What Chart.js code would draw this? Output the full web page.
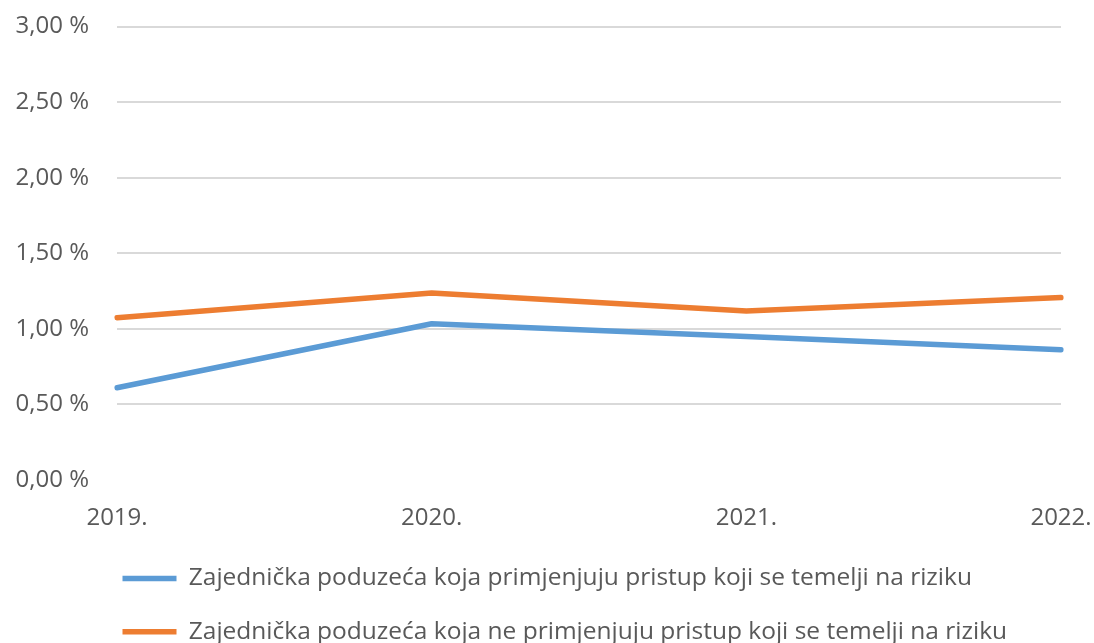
<!DOCTYPE html>
<html>
<head>
<meta charset="utf-8">
<script src="https://cdn.jsdelivr.net/npm/chart.js@4.4.1/dist/chart.umd.min.js"></script>
<style>
  html, body { margin: 0; padding: 0; background: #ffffff; overflow: hidden; }
  #wrap { width: 1094px; height: 654px; }
</style>
</head>
<body>
<div id="wrap"><canvas id="c" width="1094" height="654"></canvas></div>
<script>
const categories = ['2019.', '2020.', '2021.', '2022.'];
const seriesNames = [
  'Zajednička poduzeća koja primjenjuju pristup koji se temelji na riziku',
  'Zajednička poduzeća koja ne primjenjuju pristup koji se temelji na riziku'
];
const applyingRiskBased = [0.61, 1.034, 0.95, 0.862];
const notApplyingRiskBased = [1.074, 1.237, 1.118, 1.207];
const yTicks = [0, 0.5, 1, 1.5, 2, 2.5, 3];
const yTickLabels = ['0,00 %', '0,50 %', '1,00 %', '1,50 %', '2,00 %', '2,50 %', '3,00 %'];

const textColor = '#595959';
const fontFamily = '"Open Sans", "Noto Sans", sans-serif';

const legendShift = {
  id: 'legendShift',
  afterLayout(chart) {
    const lg = chart.legend;
    if (lg) {
      const w = lg.right - lg.left;
      lg.left = 93.75;
      lg.right = lg.left + w;
    }
  }
};

new Chart(document.getElementById('c'), {
  type: 'line',
  data: {
    labels: categories,
    datasets: [
      {
        label: seriesNames[0],
        data: applyingRiskBased,
        borderColor: '#5B9BD5',
        backgroundColor: '#5B9BD5',
        borderWidth: 5.5,
        borderCapStyle: 'round',
        borderJoinStyle: 'round',
        pointRadius: 0,
        tension: 0
      },
      {
        label: seriesNames[1],
        data: notApplyingRiskBased,
        borderColor: '#ED7D31',
        backgroundColor: '#ED7D31',
        borderWidth: 5.5,
        borderCapStyle: 'round',
        borderJoinStyle: 'round',
        pointRadius: 0,
        tension: 0
      }
    ]
  },
  options: {
    responsive: false,
    animation: false,
    layout: { padding: { top: 26.5, right: 33, bottom: 0, left: 0 } },
    plugins: {
      tooltip: { enabled: false },
      legend: {
        position: 'bottom',
        align: 'start',
        labels: {
          usePointStyle: true,
          pointStyle: 'line',
          pointStyleWidth: 54,
          padding: 28.75,
          color: textColor,
          font: { family: fontFamily, size: 24.5 }
        }
      }
    },
    scales: {
      x: {
        offset: false,
        grid: { display: false, drawTicks: true, tickLength: 24, tickColor: 'rgba(0,0,0,0)' },
        border: { display: false },
        ticks: {
          color: textColor,
          font: { family: fontFamily, size: 24 },
          padding: 0,
          maxRotation: 0,
          autoSkip: false
        },
        afterFit(scale) { scale.height = 57.5; }
      },
      y: {
        min: 0,
        max: 3,
        afterBuildTicks(scale) { scale.ticks = yTicks.map(v => ({ value: v })); },
        grid: {
          drawTicks: true,
          tickLength: 28,
          tickColor: 'rgba(0,0,0,0)',
          color: ctx => (ctx.tick && ctx.tick.value === 0) ? 'rgba(0,0,0,0)' : '#D9D9D9',
          lineWidth: 2
        },
        border: { display: false },
        ticks: {
          color: textColor,
          font: { family: fontFamily, size: 24 },
          padding: 0,
          callback: (value) => {
            const i = yTicks.indexOf(value);
            return i >= 0 ? yTickLabels[i] : '';
          }
        },
        afterFit(scale) { scale.width = 117; }
      }
    }
  },
  plugins: [legendShift]
});
</script>
</body>
</html>
